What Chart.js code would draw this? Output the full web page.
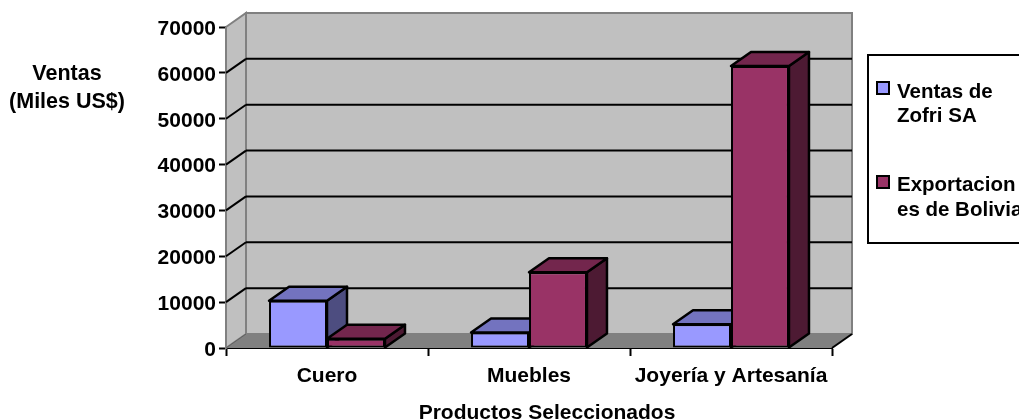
<!DOCTYPE html>
<html>
<head>
<meta charset="utf-8">
<title>Ventas por producto</title>
<script src="https://cdn.jsdelivr.net/npm/chart.js@4"></script>
<style>
    html, body { margin: 0; padding: 0; background: #fff; overflow: hidden; }
    canvas { display: block; }
</style>
</head>
<body>
<canvas id="Chart" width="1019" height="420"></canvas>
<script>
const categories = ['Cuero', 'Muebles', 'Joyería y Artesanía'];
const ventasZofri = [10300, 3400, 5200];
const exportacionesBolivia = [2000, 16500, 61500];
const yTicks = [0, 10000, 20000, 30000, 40000, 50000, 60000, 70000];
const legendVentas = ['Ventas de', 'Zofri SA'];
const legendExport = ['Exportacion', 'es de Bolivia'];
const yTitle = ['Ventas', '(Miles US$)'];
const xTitle = 'Productos Seleccionados';

const FAMILY = '"Liberation Sans", Arial, sans-serif';
// how far the floor and the bars reach back
const DEPTH_X = 20;
const DEPTH_Y = -14;

function poly(ctx, pts, fill, stroke, width) {
    ctx.beginPath();
    pts.forEach((p, i) => i ? ctx.lineTo(p[0], p[1]) : ctx.moveTo(p[0], p[1]));
    ctx.closePath();
    if (fill) { ctx.fillStyle = fill; ctx.fill(); }
    if (stroke) { ctx.strokeStyle = stroke; ctx.lineWidth = width; ctx.stroke(); }
}

function line(ctx, x1, y1, x2, y2, color, width) {
    ctx.beginPath();
    ctx.moveTo(x1, y1);
    ctx.lineTo(x2, y2);
    ctx.strokeStyle = color;
    ctx.lineWidth = width;
    ctx.stroke();
}

// walls, floor and the grid behind the bars
const wallsPlugin = {
    id: 'walls',
    beforeDatasetsDraw(chart) {
        const ctx = chart.ctx;
        const a = chart.chartArea;
        const y = chart.scales.y;
        const bx = a.left + DEPTH_X, rx = a.right + DEPTH_X;
        const ty = a.top + DEPTH_Y, by = a.bottom + DEPTH_Y;
        ctx.save();
        poly(ctx, [[bx, ty], [rx, ty], [rx, by], [bx, by]], '#C0C0C0', '#808080', 2);
        poly(ctx, [[a.left, a.top], [bx, ty], [bx, by], [a.left, a.bottom]], '#C0C0C0', '#808080', 2);
        poly(ctx, [[a.left, a.bottom], [bx, by], [rx, by], [a.right, a.bottom]], '#808080');
        yTicks.forEach(v => {
            if (v === 0 || v === yTicks[yTicks.length - 1]) return;
            const py = y.getPixelForValue(v);
            line(ctx, a.left, py, bx, py + DEPTH_Y, '#000', 2);
            line(ctx, bx, py + DEPTH_Y, rx, py + DEPTH_Y, '#000', 2);
        });
        line(ctx, a.left, a.bottom, bx, by, '#606060', 1);
        line(ctx, a.right, a.bottom, rx, by, '#000', 2);
        ctx.restore();
        drawBarDepth(chart);
    }
};

// side and top faces, the library paints the fronts over them afterwards
function drawBarDepth(chart) {
    const ctx = chart.ctx;
    ctx.save();
    ctx.lineJoin = 'round';
    for (let j = 0; j < categories.length; j++) {
        chart.data.datasets.forEach((ds, i) => {
            const bar = chart.getDatasetMeta(i).data[j];
            const l = bar.x - bar.width / 2, r = bar.x + bar.width / 2;
            const t = bar.y, b = bar.base;
            poly(ctx, [[r, t], [r + DEPTH_X, t + DEPTH_Y], [r + DEPTH_X, b + DEPTH_Y], [r, b]], ds.sideColor, '#000', 2.5);
            poly(ctx, [[l, t], [l + DEPTH_X, t + DEPTH_Y], [r + DEPTH_X, t + DEPTH_Y], [r, t]], ds.topColor, '#000', 2.5);
        });
    }
    ctx.restore();
}

// axis titles and the boxed legend
const textPlugin = {
    id: 'texts',
    afterDraw(chart) {
        const ctx = chart.ctx;
        ctx.save();
        ctx.font = 'bold 21.5px ' + FAMILY;
        ctx.fillStyle = '#000';
        ctx.textBaseline = 'alphabetic';
        ctx.textAlign = 'center';
        ctx.fillText(yTitle[0], 67, 80);
        ctx.fillText(yTitle[1], 67, 108);
        ctx.font = 'bold 21px ' + FAMILY;
        ctx.fillText(xTitle, 547, 419);

        ctx.strokeStyle = '#000';
        ctx.lineWidth = 2;
        ctx.fillStyle = '#fff';
        ctx.fillRect(868, 55, 160, 188);
        ctx.strokeRect(868, 55, 160, 188);

        ctx.font = 'bold 20.5px ' + FAMILY;
        ctx.textAlign = 'left';
        const rows = [
            { lines: legendVentas, box: 82, base: [98, 122] },
            { lines: legendExport, box: 176, base: [191, 216] }
        ];
        rows.forEach((row, i) => {
            ctx.fillStyle = chart.data.datasets[i].backgroundColor;
            ctx.fillRect(877, row.box, 12, 12);
            ctx.strokeRect(877, row.box, 12, 12);
            ctx.fillStyle = '#000';
            row.lines.forEach((text, k) => ctx.fillText(text, 897, row.base[k]));
        });
        ctx.restore();
    }
};

new Chart(document.getElementById('Chart'), {
    type: 'bar',
    data: {
        labels: categories,
        datasets: [
            {
                label: legendVentas.join(' '),
                data: ventasZofri,
                backgroundColor: '#9999FF',
                topColor: '#7373BF',
                sideColor: '#4D4D80'
            },
            {
                label: legendExport.join(''),
                data: exportacionesBolivia,
                backgroundColor: '#993366',
                topColor: '#73264D',
                sideColor: '#4D1A33'
            }
        ]
    },
    options: {
        responsive: false,
        animation: false,
        layout: { padding: { top: 27, right: 187, left: 0, bottom: 0 } },
        datasets: {
            bar: {
                categoryPercentage: 0.574,
                barPercentage: 1,
                borderColor: '#000',
                borderWidth: 2,
                borderSkipped: false
            }
        },
        plugins: {
            legend: { display: false },
            title: { display: false },
            tooltip: { enabled: false }
        },
        scales: {
            x: {
                afterFit(scale) { scale.height = 72; },
                grid: { drawOnChartArea: false, color: '#000', tickLength: 8, tickWidth: 2 },
                border: { color: '#000', width: 2 },
                ticks: { color: '#000', font: { family: FAMILY, size: 21, weight: 'bold' }, padding: 8, maxRotation: 0, autoSkip: false }
            },
            y: {
                min: 0,
                max: 70000,
                afterFit(scale) { scale.width = 226; },
                afterBuildTicks(scale) { scale.ticks = yTicks.map(v => ({ value: v })); },
                grid: { drawOnChartArea: false, color: '#000', tickLength: 7, tickWidth: 2 },
                border: { color: '#000', width: 2 },
                ticks: { color: '#000', font: { family: FAMILY, size: 21, weight: 'bold' }, padding: 3, labelOffset: 2, callback: v => String(v) }
            }
        }
    },
    plugins: [wallsPlugin, textPlugin]
});
</script>
</body>
</html>
